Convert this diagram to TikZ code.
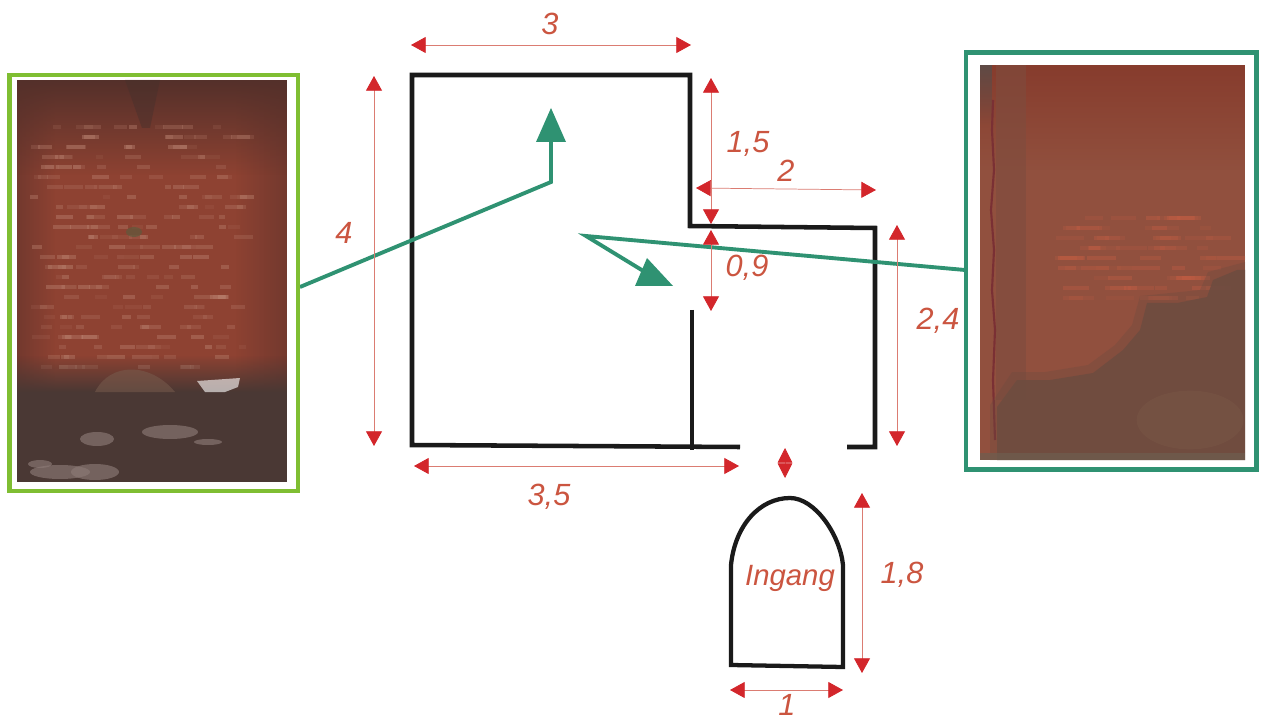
\documentclass[tikz,border=0pt]{standalone}
\usepackage{fontspec}
\setmainfont{Liberation Sans}
\usetikzlibrary{arrows.meta,fadings}
\definecolor{lframe}{HTML}{7FBE32}
\definecolor{rframe}{HTML}{2F9272}
\definecolor{gline}{HTML}{2F9272}
\definecolor{tipred}{HTML}{D3262B}
\definecolor{dimline}{HTML}{DB7C72}
\definecolor{dimtext}{HTML}{CB5540}
\definecolor{wall}{HTML}{1A1A1A}
\definecolor{lbrick}{HTML}{8E4232}
\definecolor{ltop}{HTML}{54302A}
\definecolor{lside}{HTML}{70382E}
\definecolor{lfloor}{HTML}{4A3834}
\definecolor{lmid}{HTML}{46302C}
\definecolor{lmound}{HTML}{785C4E}
\definecolor{lspot}{HTML}{8C7A76}
\definecolor{lgreen}{HTML}{5F5A3C}
\definecolor{lspeck}{HTML}{C08A78}
\definecolor{rbrick}{HTML}{91503E}
\definecolor{rtop}{HTML}{873C2D}
\definecolor{rgrey}{HTML}{5F4B46}
\definecolor{rcol}{HTML}{7E4C3E}
\definecolor{rlight}{HTML}{C45E44}
\definecolor{rcrack}{HTML}{7A3034}
\definecolor{rdamp}{HTML}{6E4C40}
\definecolor{rdampb}{HTML}{7E5C4A}
\definecolor{rbase}{HTML}{6E5E50}
\tikzset{
  wallline/.style={draw=wall,line width=3.4pt,line cap=butt,line join=miter},
  dimarrow/.style={draw=dimline,line width=.55pt,{Triangle[length=11pt,width=12pt,color=tipred]}-{Triangle[length=11pt,width=12pt,color=tipred]}},
  dimlabel/.style={text=dimtext,font=\fontsize{23}{25}\selectfont\itshape,inner sep=0pt},
  viewline/.style={draw=gline,line width=2.9pt,line join=miter},
  viewtip/.style={fill=gline,draw=none},
  photoframe/.style={draw,line width=3.4pt,fill=white,inner sep=0pt,outer sep=0pt,anchor=north west},
}
\begin{document}
\begin{tikzpicture}[x=.75pt,y=-.75pt]
\useasboundingbox (0,0) rectangle (1264,720);
\fill[white] (0,0) rectangle (1264,720);

% named points
\coordinate (A) at (412,445);\coordinate (B) at (412,75);\coordinate (C) at (690,75);
\coordinate (D) at (690,226);\coordinate (E) at (875,228);\coordinate (F) at (875,447);
\coordinate (G) at (847,447);\coordinate (H) at (740,447);
\coordinate (P1) at (692,310);\coordinate (P2) at (692,450);
\coordinate (L1) at (300,287);\coordinate (L2) at (551,182);\coordinate (L3) at (551,138);
\coordinate (R1) at (965,270);\coordinate (R2) at (586,236);\coordinate (R3) at (645,272);

% walls
\draw[wallline] (H) -- (A) -- (B) -- (C) -- (D) -- (E) -- (F) -- (G);
\draw[wallline] (P1) -- (P2);

% door
\draw[wallline,line width=3.2pt] (731,665) -- (731,565) .. controls (735,525) and (760,498) .. (790,498)
  .. controls (815,498) and (840,535) .. (843,565) -- (843,667) -- cycle;

% view lines
\draw[viewline] (L1) -- (L2) -- (L3);
\fill[viewtip] (551,108) -- (566,142) -- (536,142) -- cycle;
\draw[viewline] (R1) -- (R2) -- (R3);
\fill[viewtip] (673,286) -- (647,258) -- (635,286) -- cycle;

% dimension arrows
\coordinate (d3a) at (411,45);\coordinate (d3b) at (691,45);
\coordinate (d4a) at (374,76);\coordinate (d4b) at (374,446);
\coordinate (d15a) at (711,78);\coordinate (d15b) at (711,224);
\coordinate (d2a) at (696,188);\coordinate (d2b) at (876,190);
\coordinate (d09a) at (711,230);\coordinate (d09b) at (711,311);
\coordinate (d24a) at (897,225);\coordinate (d24b) at (897,446);
\coordinate (d35a) at (414,466);\coordinate (d35b) at (739,466);
\coordinate (dea) at (785,448);\coordinate (deb) at (785,478);
\coordinate (d18a) at (862,493);\coordinate (d18b) at (862,673);
\coordinate (d1a) at (730,690);\coordinate (d1b) at (843,690);
\foreach \p/\q in {d3a/d3b,d4a/d4b,d15a/d15b,d2a/d2b,d09a/d09b,d24a/d24b,d35a/d35b,d18a/d18b,d1a/d1b}{
  \draw[dimarrow] (\p) -- (\q);
}
\draw[draw=dimline,line width=.55pt,{Triangle[length=11pt,width=11pt,color=tipred]}-{Triangle[length=11pt,width=11pt,color=tipred]}] (dea) -- (deb);

% labels
\node[dimlabel] (t3) at (550,24) {3};
\node[dimlabel] (t4) at (344,233) {4};
\node[dimlabel] (t15) at (748,144) {1,5};
\node[dimlabel] (t2) at (786,171) {2};
\node[dimlabel] (t09) at (747,268) {0,9};
\node[dimlabel] (t24) at (938,321) {2,4};
\node[dimlabel] (t35) at (549,497) {3,5};
\node[dimlabel] (t18) at (902,575) {1,8};
\node[dimlabel] (t1) at (787,705) {1};
\node[dimlabel,font=\fontsize{22}{24}\selectfont\itshape] (ting) at (790,578) {Ingang};

% left photo
\node[photoframe,draw=lframe,minimum width=216.4pt,minimum height=312pt] (lphoto) at (9.5,75) {};
\begin{scope}
\clip (17,80) rectangle (287,482);
\fill[lbrick] (17,80) rectangle (287,482);
\fill[lside,path fading=east,opacity=.9] (17,80) rectangle (55,482);
\fill[lside,path fading=west,opacity=.9] (235,80) rectangle (287,482);
\fill[ltop,path fading=south] (17,80) rectangle (287,175);
\fill[lmid,opacity=.45] (125,80) -- (160,80) -- (150,128) -- (142,128) -- cycle;
\pgfmathsetseed{7}
\foreach \r in {0,...,24}{
  \foreach \k in {1,...,9}{
    \pgfmathsetmacro\xx{30+rnd*210}
    \pgfmathsetmacro\ww{6+rnd*14}
    \pgfmathsetmacro\oo{.1+rnd*.3}
    \fill[lspeck,opacity=\oo] (\xx,125+\r*10) rectangle ++(\ww,4);
  }
}
\fill[lgreen,opacity=.7] (134,232) ellipse (6pt and 3.75pt);
\fill[lfloor,path fading=north] (17,355) rectangle (287,392);
\fill[lfloor] (17,392) rectangle (287,482);
\fill[lmound,opacity=.55] (95,392) .. controls (110,362) and (150,362) .. (175,392) -- cycle;
\fill[white,opacity=.6] (197,381) -- (240,378) -- (238,387) -- (225,392) -- (205,392) -- cycle;
\foreach \x/\y/\a/\b in {97/439/17/7,170/432/28/7,208/442/14/3,60/472/30/7,95/472/24/8,40/464/12/4}{
  \fill[lspot,opacity=.65] (\x,\y) ellipse (\a*.75pt and \b*.75pt);
}
\end{scope}

% right photo
\node[photoframe,draw=rframe,minimum width=217.9pt,minimum height=312.75pt] (rphoto) at (966,52.5) {};
\begin{scope}
\clip (980,65) rectangle (1245,460);
\fill[rbrick] (980,65) rectangle (1245,460);
\fill[rtop,path fading=south] (980,65) rectangle (1245,170);
\fill[rcol,opacity=.6] (996,65) rectangle (1026,400);
\fill[rgrey,path fading=south] (980,65) rectangle (992,125);
\pgfmathsetseed{11}
\foreach \r in {0,...,8}{
  \foreach \k in {1,...,9}{
    \pgfmathsetmacro\xx{1055+rnd*165}
    \pgfmathsetmacro\ww{10+rnd*22}
    \pgfmathsetmacro\oo{.12+rnd*.28}
    \fill[rlight,opacity=\oo] (\xx,216+\r*10) rectangle ++(\ww,4);
  }
}
\draw[rcrack,line width=1.6pt] (993,100) -- (992,130) -- (994,170) -- (991,210) -- (994,250) -- (992,290) -- (995,330) -- (993,380) -- (995,440);
\fill[rdamp,opacity=.35] (1245,262) -- (1208,272) -- (1200,290) -- (1140,296) -- (1132,325) -- (1115,345) -- (1088,365) -- (1045,372) -- (1012,372) -- (990,405) -- (990,460) -- (1245,460) -- cycle;
\fill[rdamp,opacity=.9] (1237,270) -- (1213,280) -- (1207,297) -- (1177,303) -- (1147,303) -- (1140,330) -- (1123,350) -- (1093,373) -- (1050,380) -- (1017,380) -- (997,407) -- (997,460) -- (1245,460) -- (1245,270) -- cycle;
\fill[rdampb,opacity=.35] (1190,420) ellipse (40pt and 22pt);
\fill[rbase,opacity=.7] (980,453) rectangle (1245,460);
\end{scope}
\end{tikzpicture}
\end{document}
